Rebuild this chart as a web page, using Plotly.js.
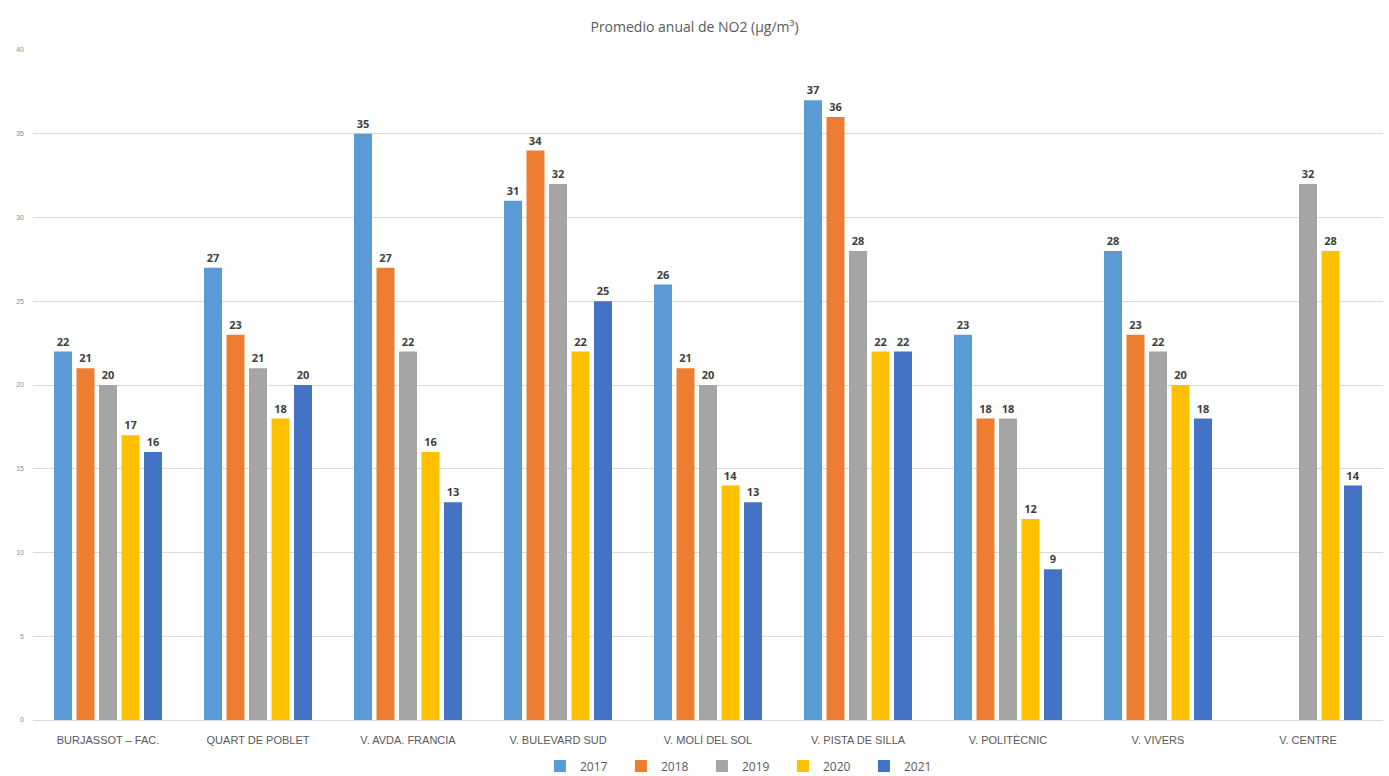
<!DOCTYPE html>
<html>
<head>
<meta charset="utf-8">
<script src="https://cdn.plot.ly/plotly-3.0.1.min.js"></script>
<style>html,body{margin:0;padding:0;background:#fff;}#chart{width:1389px;height:776px;}</style>
</head>
<body>
<div id="chart"></div>
<script>
const categories = ["BURJASSOT – FAC.", "QUART DE POBLET", "V. AVDA. FRANCIA", "V. BULEVARD SUD", "V. MOLÍ DEL SOL", "V. PISTA DE SILLA", "V. POLITÈCNIC", "V. VIVERS", "V. CENTRE"];
const years = ["2017", "2018", "2019", "2020", "2021"];
const v2017 = [22, 27, 35, 31, 26, 37, 23, 28, null];
const v2018 = [21, 23, 27, 34, 21, 36, 18, 23, null];
const v2019 = [20, 21, 22, 32, 20, 28, 18, 22, 32];
const v2020 = [17, 18, 16, 22, 14, 22, 12, 20, 28];
const v2021 = [16, 20, 13, 25, 13, 22, 9, 18, 14];
const colors = ["#5B9BD5", "#ED7D31", "#A5A5A5", "#FFC000", "#4472C4"];
const series = [v2017, v2018, v2019, v2020, v2021];

const traces = series.map((vals, i) => ({
  type: "bar",
  name: years[i],
  x: categories,
  y: vals,
  marker: {color: colors[i]},
  text: vals.map(v => v == null ? "" : String(v)),
  textposition: "outside",
  cliponaxis: false,
  textfont: {family: "Open Sans, Liberation Sans, sans-serif", size: 11, color: "#404040", weight: 700},
  hoverinfo: "skip"
}));

const layout = {
  width: 1389, height: 776,
  margin: {l: 33, r: 6, t: 50, b: 56},
  paper_bgcolor: "#fff", plot_bgcolor: "#fff",
  title: {text: "Promedio anual de NO2 (µg/m³)", x: 0.5, xanchor: "center", y: 0.965, yanchor: "middle",
          font: {family: "Open Sans, Liberation Sans, sans-serif", size: 14, color: "#595959"}},
  barmode: "group",
  bargap: 0.25,
  bargroupgap: 0.2,
  showlegend: true,
  legend: {orientation: "h", x: 0.5255, xanchor: "center", yref: "container", y: 0.013, yanchor: "middle",
           font: {family: "Open Sans, Liberation Sans, sans-serif", size: 12, color: "#595959"},
           itemwidth: 30, entrywidth: 36, entrywidthmode: "pixels", traceorder: "normal"},
  xaxis: {type: "category", tickfont: {family: "Liberation Sans Narrow, Liberation Sans, sans-serif", size: 11, color: "#595959"},
          showline: true, linecolor: "#d9d9d9", linewidth: 1, ticks: "", showgrid: false, ticklabelstandoff: 10},
  yaxis: {range: [0, 40], dtick: 5, tick0: 0, showgrid: true, gridcolor: "#d9d9d9", gridwidth: 1,
          zeroline: false, showline: false, ticks: "",
          tickfont: {family: "Liberation Sans, sans-serif", size: 7, color: "#8c8c8c"}, ticklabelstandoff: 8}
};

Plotly.newPlot("chart", traces, layout, {displayModeBar: false, staticPlot: true});
</script>
</body>
</html>
